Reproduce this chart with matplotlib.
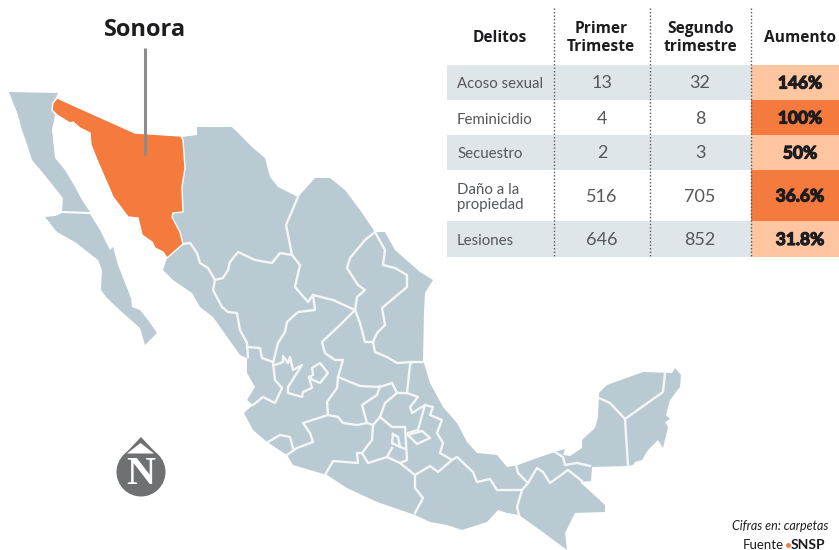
import matplotlib
matplotlib.use("Agg")
import matplotlib.pyplot as plt
import matplotlib.patheffects as pe
from matplotlib.patches import Polygon, Rectangle, Circle

# ---- table data
delitos = ["Acoso sexual", "Feminicidio", "Secuestro", "Daño a la\npropiedad", "Lesiones"]
primer = [13, 4, 2, 516, 646]
segundo = [32, 8, 3, 705, 852]
aumento = ["146%", "100%", "50%", "36.6%", "31.8%"]
headers = ["Delitos", "Primer\nTrimeste", "Segundo\ntrimestre", "Aumento"]

# ---- map outlines (in image pixels)
baja_norte = [(9,92),(58,93),(53,103),(52,110),(55,115),(52,130),(55,158),(65,170),(75,187),(82,200),(90,212),(62,211),(63,198),(43,173),(32,160),(28,147),(22,130),(17,112),(12,100)]
baja_sur = [(45,217),(55,216),(62,213),(90,214),(100,230),(110,250),(113,247),(118,265),(125,283),(131,298),(132,307),(140,310),(148,320),(157,333),(145,345),(140,328),(123,313),(107,298),(101,290),(102,270),(98,260),(75,242),(57,232)]
sonora = [(57,98),(135,133),(181,136),(183,140),(185,168),(182,187),(183,212),(173,213),(172,217),(180,232),(183,244),(167,258),(163,252),(155,248),(152,242),(142,235),(138,218),(128,217),(113,197),(107,183),(97,160),(91,145),(90,133),(80,128),(73,122),(70,123),(57,115),(52,110),(53,103)]
mainland = [(182,137),(197,135),(197,127),(232,127),(253,148),(265,158),(270,177),(278,187),(298,197),(315,178),(330,178),(345,190),(360,210),(375,232),(385,232),(395,250),(420,272),(433,280),(425,293),(424,312),(423,360),(430,383),(443,407),(457,423),(467,442),(477,453),(497,455),(507,467),(518,465),(537,458),(555,452),(565,449),(563,455),(570,456),(582,448),(582,440),(595,428),(598,417),(599,393),(607,385),(643,372),(672,373),(675,368),(681,375),(680,387),(670,400),(666,415),(670,419),(665,422),(668,427),(663,448),(658,440),(648,450),(642,460),(635,462),(633,465),(628,466),(592,467),(591,481),(580,482),(605,505),(605,512),(575,513),(565,533),(567,550),(540,530),(519,515),(507,513),(498,510),(487,522),(462,530),(447,525),(430,522),(415,515),(377,502),(347,488),(327,475),(293,465),(287,455),(267,442),(253,430),(244,413),(253,405),(247,400),(255,387),(247,373),(247,358),(240,355),(213,317),(200,307),(192,293),(173,280),(163,270),(167,258),(183,244),(180,232),(172,217),(173,213),(183,212),(182,187),(185,168)]
borders = [
    [(183,244),(190,243),(197,253),(200,263),(208,268),(215,280),(213,290),(222,307),(228,312),(237,313),(240,330),(247,343),(248,357)],
    [(215,280),(223,278),(228,270),(230,262),(238,252),(255,260),(272,263),(280,253),(292,255),(300,265),(295,287),(308,302),(313,295),(333,300),(355,310)],
    [(298,197),(286,225),(292,255)],
    [(375,232),(365,240),(350,258),(347,268),(358,285),(365,290),(357,297),(355,310)],
    [(375,232),(385,250),(383,265),(395,268),(407,275),(407,287),(395,297),(382,308),(385,325),(377,333),(373,342)],
    [(247,347),(260,348),(262,358),(273,362)],
    [(313,295),(315,310),(298,312),(287,322),(285,332),(278,343),(273,363),(275,380),(282,388),(275,403),(263,397),(253,405)],
    [(275,365),(283,362),(283,356),(288,363),(290,357),(293,370),(302,365),(288,387),(288,393),(302,397),(303,392),(312,388),(309,377),(313,375),(312,368),(320,363),(328,373),(320,383),(313,380),(309,377)],
    [(355,310),(340,325),(322,342),(325,353),(335,360),(343,360),(338,377),(337,388),(327,402),(328,415),(303,423),(310,433),(313,442),(297,448),(287,455)],
    [(268,442),(280,435),(290,437),(293,448)],
    [(328,415),(338,417),(343,423),(357,425),(367,423),(362,405),(377,395),(380,386)],
    [(338,377),(360,386),(380,387),(392,383),(397,393),(407,393),(410,365),(412,362),(423,362)],
    [(355,310),(360,323),(365,342),(373,342),(375,352),(387,357),(397,363),(412,362)],
    [(397,393),(385,403),(380,417),(373,425),(367,423)],
    [(373,425),(372,440),(362,453),(357,453),(358,463),(333,461),(325,475)],
    [(380,417),(392,427),(405,427),(407,460),(400,463),(387,457),(368,463),(362,453)],
    [(407,393),(418,397),(410,407),(412,413),(425,405),(418,430),(408,433)],
    [(425,405),(433,407),(430,415),(442,420),(437,433),(443,443),(440,453),(452,460),(438,472),(430,466),(415,475),(400,463)],
    [(408,435),(422,431),(430,438),(417,444),(408,435)],
    [(393,434),(398,437),(400,447),(392,443),(393,434)],
    [(392,443),(405,449)],
    [(387,457),(392,448)],
    [(415,475),(415,488),(423,498),(415,513)],
    [(452,460),(457,457),(473,472),(477,482),(490,479),(497,490),(522,490),(517,507),(519,515)],
    [(522,490),(528,483),(537,468),(543,472),(550,483),(568,470),(582,481)],
    [(528,483),(518,473),(516,465)],
    [(555,452),(563,457),(565,465),(577,463),(590,466)],
    [(599,398),(610,403),(625,419),(663,392),(665,373)],
    [(625,419),(628,466)],
]

BLUE, ORANGE, LIGHT, BAND = "#b9cad3", "#f47a3d", "#fdc5a0", "#dfe6ea"
DARK, BODY = "#1d1d1f", "#55575a"
plt.rcParams["font.family"] = ["Lato", "DejaVu Sans"]

fig = plt.figure(figsize=(8.39, 5.5), dpi=100)
ax = fig.add_axes([0, 0, 1, 1])
ax.set_xlim(0, 839); ax.set_ylim(550, 0); ax.axis("off")

# ---- map
for shape in (baja_norte, baja_sur, mainland):
    ax.add_patch(Polygon(shape, closed=True, fc=BLUE, ec="none", zorder=1))
for line in borders:
    xs, ys = zip(*line)
    ax.plot(xs, ys, color="#f4f6f7", lw=1.7, solid_joinstyle="round", zorder=2)
ax.add_patch(Polygon(sonora, closed=True, fc=ORANGE, ec="white", lw=1.0, zorder=3))
ax.plot([145, 145], [48, 155], color="#8a8c8e", lw=2.2, zorder=4, solid_capstyle="butt")
ax.text(145, 30, "Sonora", ha="center", va="center", fontsize=17, weight="bold",
        family="Open Sans", color=DARK)

# ---- logo
ax.add_patch(Circle((141, 472), 24.5, fc="#6f7072", ec="none", zorder=3))
ax.add_patch(Polygon([(141, 437), (124, 455), (158, 455)], fc="#6f7072", ec="none", zorder=3))
ax.add_patch(Polygon([(140.5, 443), (127, 453.5), (154, 453.5)], fc="white", ec="none", zorder=4))
ax.text(141, 474, "N", ha="center", va="center", fontsize=29, weight="bold",
        family="Liberation Serif", color="white", zorder=5)

# ---- table
tops = [65, 100, 135, 170, 221]
bots = [100, 135, 170, 221, 257]
colx = [553.5, 650, 751]
cx = [602, 700, 800]
for i, (t, b) in enumerate(zip(tops, bots)):
    if i % 2 == 0:
        ax.add_patch(Rectangle((447, t), 304, b - t, fc=BAND, ec="none", zorder=1))
    ax.add_patch(Rectangle((751, t), 88, b - t, fc=ORANGE if i % 2 else LIGHT, ec="none", zorder=1))
    m = (t + b) / 2 + 1
    ax.text(457, m + 1, delitos[i], ha="left", va="center", fontsize=10.8, color=BODY, linespacing=1.1)
    ax.text(cx[0], m, str(primer[i]), ha="center", va="center", fontsize=13, color=BODY)
    ax.text(cx[1], m, str(segundo[i]), ha="center", va="center", fontsize=13, color=BODY)
    ax.text(cx[2], m, aumento[i], ha="center", va="center", fontsize=12.5, weight="bold", color=DARK,
            path_effects=[pe.withStroke(linewidth=0.9, foreground=DARK)])
for x in colx:
    ax.plot([x, x], [8, 258], color="#555555", lw=1.0, ls=(0, (1, 1.5)), zorder=3)
for x, h in zip([500, 601, 700, 800], headers):
    ax.text(x, 38, h, ha="center", va="center", fontsize=11.2, weight="bold",
            family="Open Sans", color=DARK, linespacing=1.1)

# ---- notes
ax.text(828, 526, "Cifras en: carpetas", ha="right", va="center", fontsize=9, style="italic", color=DARK)
ax.text(743, 549, "Fuente", ha="left", va="baseline", fontsize=9.5, color=DARK)
ax.plot([788], [545], "o", color=ORANGE, ms=2.5)
ax.text(791, 549, "SNSP", ha="left", va="baseline", fontsize=10, weight="bold", color=DARK)

fig.savefig("out.png", dpi=100, facecolor="white")
